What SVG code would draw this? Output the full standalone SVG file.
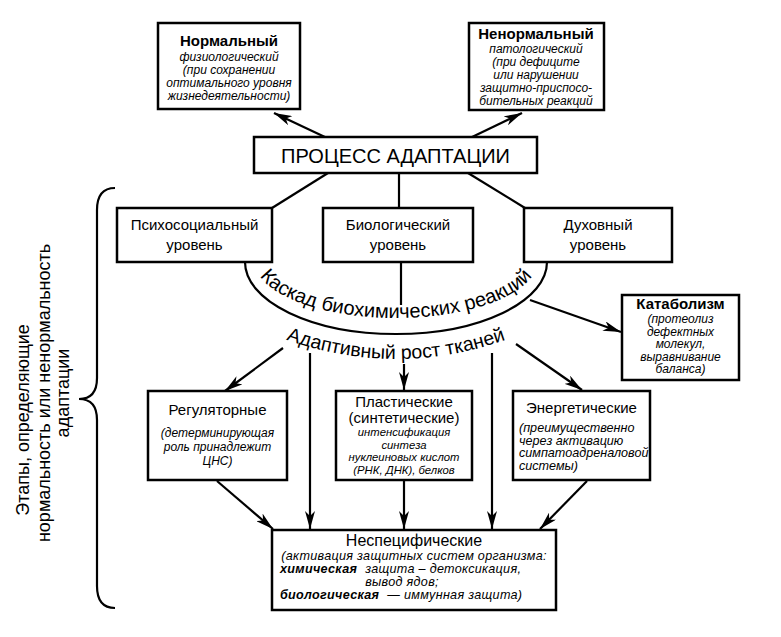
<svg xmlns="http://www.w3.org/2000/svg" width="781" height="637" viewBox="0 0 781 637">
<style>
.box{fill:#fff;stroke:#000;stroke-width:2.5}
.ln{fill:none;stroke:#000;stroke-width:2.2}
.t{font-family:"Liberation Sans",Arial,sans-serif;fill:#000;text-anchor:middle}
.b{font-weight:bold;font-size:15px}
.n{font-size:15px}
.i{font-style:italic;font-size:12px}
.s{font-size:11.3px}
.w{font-size:12.6px}
.bi{font-style:italic;font-weight:bold}
.l{text-anchor:start}
</style>
<defs>
<marker id="ah" markerUnits="userSpaceOnUse" markerWidth="18" markerHeight="10" refX="18" refY="5" orient="auto">
<path d="M0,0 L18,5 L0,10 L5,5 z" fill="#000"/>
</marker>
<path id="arc1" d="M255,261 A141,57 0 0 0 537,261"/>
<path id="arc2" d="M266,332 Q396,386 526,332"/>
</defs>
<rect width="781" height="637" fill="#fff"/>

<g id="connectors">
<line class="ln" x1="327" y1="138" x2="274" y2="113" marker-end="url(#ah)"/>
<line class="ln" x1="470" y1="138" x2="522" y2="113" marker-end="url(#ah)"/>
<line class="ln" x1="328" y1="173" x2="272" y2="208"/>
<line class="ln" x1="399" y1="173" x2="399" y2="208"/>
<line class="ln" x1="468" y1="173" x2="525" y2="208"/>
<path class="ln" d="M245,262 A151,72 0 0 0 547,262"/>
<line class="ln" x1="401" y1="262" x2="401" y2="305"/>
<line class="ln" x1="530" y1="300" x2="621" y2="332" marker-end="url(#ah)"/>
<line class="ln" x1="283" y1="348" x2="225" y2="391" marker-end="url(#ah)"/>
<line class="ln" x1="310" y1="353" x2="310" y2="529" marker-end="url(#ah)"/>
<line class="ln" x1="404" y1="364" x2="404" y2="390" marker-end="url(#ah)"/>
<line class="ln" x1="492" y1="353" x2="492" y2="529" marker-end="url(#ah)"/>
<line class="ln" x1="516" y1="344" x2="582" y2="390" marker-end="url(#ah)"/>
<line class="ln" x1="217" y1="481" x2="273" y2="529" marker-end="url(#ah)"/>
<line class="ln" x1="404" y1="481" x2="404" y2="529" marker-end="url(#ah)"/>
<line class="ln" x1="587" y1="481" x2="540" y2="529" marker-end="url(#ah)"/>
<path class="ln" d="M115,188 Q97,188 97,210 L97,378 Q97,399 79,399 Q97,399 97,420 L97,586 Q97,608 115,608"/>
</g>

<g id="normal">
<rect class="box" x="158" y="23" width="142" height="86"/>
<text class="t b" x="229" y="46">Нормальный</text>
<text class="t i" x="229" y="61">физиологический</text>
<text class="t i" x="229" y="74">(при сохранении</text>
<text class="t i" x="229" y="87">оптимального уровня</text>
<text class="t i" x="229" y="100">жизнедеятельности)</text>
</g>

<g id="abnormal">
<rect class="box" x="469" y="23" width="135" height="87"/>
<text class="t b" x="536" y="39">Ненормальный</text>
<text class="t i" x="536" y="53">патологический</text>
<text class="t i" x="536" y="66">(при дефиците</text>
<text class="t i" x="536" y="79">или нарушении</text>
<text class="t i" x="536" y="92">защитно-приспосо-</text>
<text class="t i" x="536" y="105">бительных реакций</text>
</g>

<g id="process">
<rect class="box" x="254" y="137" width="283" height="36"/>
<text class="t" x="395.5" y="163" font-size="20">ПРОЦЕСС АДАПТАЦИИ</text>
</g>

<g id="psycho">
<rect class="box" x="117" y="208" width="155" height="54"/>
<text class="t n" x="194.5" y="230">Психосоциальный</text>
<text class="t n" x="194.5" y="250">уровень</text>
</g>

<g id="bio">
<rect class="box" x="323" y="208" width="150" height="54"/>
<text class="t n" x="398" y="230">Биологический</text>
<text class="t n" x="398" y="250">уровень</text>
</g>

<g id="spirit">
<rect class="box" x="524" y="208" width="148" height="54"/>
<text class="t n" x="598" y="230">Духовный</text>
<text class="t n" x="598" y="250">уровень</text>
</g>

<g id="cascade">
<text class="t" font-size="20"><textPath href="#arc1" startOffset="50%">Каскад биохимических реакций</textPath></text>
<text class="t" font-size="19.5"><textPath href="#arc2" startOffset="50%">Адаптивный рост тканей</textPath></text>
</g>

<g id="catabolism">
<rect class="box" x="622" y="295" width="117" height="85"/>
<text class="t b" x="680.5" y="309">Катаболизм</text>
<text class="t i" x="680.5" y="323">(протеолиз</text>
<text class="t i" x="680.5" y="335.5">дефектных</text>
<text class="t i" x="680.5" y="348">молекул,</text>
<text class="t i" x="680.5" y="360.5">выравнивание</text>
<text class="t i" x="680.5" y="373">баланса)</text>
</g>

<g id="regulatory">
<rect class="box" x="148" y="391" width="139" height="89"/>
<text class="t n" x="217.5" y="415">Регуляторные</text>
<text class="t i" x="217.5" y="437">(детерминирующая</text>
<text class="t i" x="217.5" y="451">роль принадлежит</text>
<text class="t i" x="217.5" y="465">ЦНС)</text>
</g>

<g id="plastic">
<rect class="box" x="336" y="391" width="136" height="89"/>
<text class="t n" x="404" y="407">Пластические</text>
<text class="t n" x="404" y="423">(синтетические)</text>
<text class="t i s" x="404" y="436">интенсификация</text>
<text class="t i s" x="404" y="448.5">синтеза</text>
<text class="t i s" x="404" y="461">нуклеиновых кислот</text>
<text class="t i s" x="404" y="473.5">(РНК, ДНК), белков</text>
</g>

<g id="energetic">
<rect class="box" x="513" y="391" width="137" height="89"/>
<text class="t n" x="581.5" y="413">Энергетические</text>
<text class="t i w l" x="519" y="432">(преимущественно</text>
<text class="t i w l" x="519" y="444.5">через активацию</text>
<text class="t i w l" x="519" y="457">симпатоадреналовой</text>
<text class="t i w l" x="519" y="469.5">системы)</text>
</g>

<g id="nonspecific">
<rect class="box" x="272" y="530" width="284" height="80"/>
<text class="t" x="414" y="546" font-size="16">Неспецифические</text>
<text class="t i w" x="414" y="560" letter-spacing="0.3">(активация защитных систем организма:</text>
<text class="t i w l" x="280" y="573" letter-spacing="0.3"><tspan class="bi">химическая</tspan><tspan dx="8">защита – детоксикация,</tspan></text>
<text class="t i w" x="402" y="586" letter-spacing="0.3">вывод ядов;</text>
<text class="t i w l" x="280" y="599" letter-spacing="0.3"><tspan class="bi">биологическая</tspan><tspan dx="8">— иммунная защита)</tspan></text>
</g>

<g id="stages">
<text class="t" font-size="18" transform="translate(29,420) rotate(-90)">Этапы, определяющие</text>
<text class="t" font-size="18" transform="translate(50,393) rotate(-90)">нормальность или ненормальность</text>
<text class="t" font-size="18" transform="translate(69,393) rotate(-90)">адаптации</text>
</g>
</svg>
